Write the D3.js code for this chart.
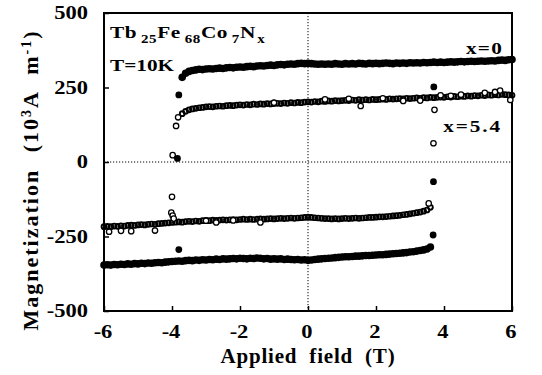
<!DOCTYPE html>
<html><head><meta charset="utf-8">
<script src="https://cdn.jsdelivr.net/npm/d3@7"></script>
<style>
html,body{margin:0;padding:0;background:#fff;}
svg{display:block;}
</style></head>
<body>
<svg id="chart" width="542" height="375" font-family="'Liberation Serif', 'Times New Roman', Times, serif" font-weight="bold"></svg>
<script>
// ---------- DATA ----------
const xTicks = [-6, -4, -2, 0, 2, 4, 6];
const yTicks = [-500, -250, 0, 250, 500];

const fieldGrid = [-6.0,-5.9,-5.8,-5.7,-5.6,-5.5,-5.4,-5.3,-5.2,-5.1,-5.0,-4.9,-4.8,-4.7,-4.6,-4.5,-4.4,-4.3,-4.2,-4.1,
-4.0,-3.9,-3.8,-3.7,-3.6,-3.5,-3.4,-3.3,-3.2,-3.1,-3.0,-2.9,-2.8,-2.7,-2.6,-2.5,-2.4,-2.3,-2.2,-2.1,
-2.0,-1.9,-1.8,-1.7,-1.6,-1.5,-1.4,-1.3,-1.2,-1.1,-1.0,-0.9,-0.8,-0.7,-0.6,-0.5,-0.4,-0.3,-0.2,-0.1,
0.0,0.1,0.2,0.3,0.4,0.5,0.6,0.7,0.8,0.9,1.0,1.1,1.2,1.3,1.4,1.5,1.6,1.7,1.8,1.9,
2.0,2.1,2.2,2.3,2.4,2.5,2.6,2.7,2.8,2.9,3.0,3.1,3.2,3.3,3.4,3.5,3.6,3.7,3.8,3.9,
4.0,4.1,4.2,4.3,4.4,4.5,4.6,4.7,4.8,4.9,5.0,5.1,5.2,5.3,5.4,5.5,5.6,5.7,5.8,5.9,6.0];

// x=0 : descending branch (upper)
const x0Upper = [null,null,null,null,null,null,null,null,null,null,null,null,null,null,null,null,null,null,null,null,
null,null,null,284,298,304,307,309,311,310,312,313,312,314,315,314,316,317,316,318,
319,318,320,321,320,322,323,322,324,325,324,326,327,326,328,329,328,330,331,330,
331,330,329,328,329,328,329,328,330,329,328,330,329,330,329,331,330,329,331,330,
331,330,331,332,331,330,332,331,332,331,333,332,333,332,334,333,334,335,334,335,
334,335,336,335,336,337,336,337,338,337,338,339,338,339,340,339,341,342,341,343,344];

// x=0 : ascending branch (lower)
const x0Lower = [-346,-345,-346,-344,-345,-343,-344,-342,-343,-341,-342,-340,-341,-339,-340,-338,-337,-338,-336,-335,
-334,-333,-332,-333,-331,-330,-331,-329,-330,-328,-329,-327,-328,-326,-327,-325,-326,-325,-324,-325,
-323,-324,-325,-323,-324,-322,-323,-325,-324,-326,-325,-326,-325,-327,-326,-327,-328,-327,-329,-328,
-330,-329,-327,-326,-325,-324,-323,-322,-321,-320,-319,-318,-318,-317,-316,-316,-315,-314,-314,-313,
-312,-311,-311,-310,-309,-308,-307,-306,-305,-304,-302,-301,-299,-297,-295,-292,-285,null,null,null,
null,null,null,null,null,null,null,null,null,null,null,null,null,null,null,null,null,null,null,null,null];

// x=5.4 : descending branch (upper)
const x54Upper = [null,null,null,null,null,null,null,null,null,null,null,null,null,null,null,null,null,null,null,null,
null,null,null,162,170,175,178,180,182,183,185,186,185,187,188,187,189,190,189,191,
192,191,193,192,194,193,195,194,196,195,196,197,196,198,197,199,198,200,199,201,
202,201,203,202,204,203,205,204,206,205,206,207,206,208,207,209,208,209,208,210,
209,210,211,210,212,211,212,213,212,214,213,214,215,214,216,215,217,216,217,218,
217,219,218,220,219,221,220,222,221,223,222,224,223,225,224,226,225,227,226,225,224];

// x=5.4 : ascending branch (lower)
const x54Lower = [-217,-216,-217,-215,-216,-214,-215,-213,-212,-213,-211,-210,-211,-209,-208,-209,-207,-206,-205,-204,
-203,-202,-201,-202,-200,-199,-200,-198,-199,-197,-196,-197,-195,-196,-195,-194,-195,-194,-193,-194,
-193,-192,-193,-192,-193,-192,-191,-192,-191,-190,-191,-190,-189,-190,-189,-188,-189,-188,-187,-186,
-185,-186,-187,-188,-189,-190,-190,-191,-190,-191,-190,-189,-190,-189,-188,-189,-188,-187,-186,-186,
-185,-184,-184,-183,-182,-181,-180,-179,-177,-176,-174,-172,-170,-168,-165,-161,-152,null,null,null,
null,null,null,null,null,null,null,null,null,null,null,null,null,null,null,null,null,null,null,null,null];

// isolated points during switching / scatter
const x0JumpH = [-3.80, -3.84, -3.80, 3.70, 3.69, 3.68];
const x0JumpM = [225, 12, -294, 252, -66, -245];
const x54ScatterH = [-3.98, -3.88, -3.82, 3.72, 3.69, 3.55, -4.00, -4.02, -3.98, -3.95,
  -5.85, -5.50, -5.20, -4.50, -3.00, -2.70, -2.20, -1.40,
  -1.00, 0.50, 1.20, 1.55, 2.20, 2.80, 3.30, 3.90, 4.20, 4.50, 5.20, 5.50, 5.65, 5.95];
const x54ScatterM = [23, 121, 150, 175, 63, -139, -117, -170, -180, -190,
  -234, -231, -232, -230, -197, -203, -196, -203,
  199, 210, 212, 188, 214, 205, 206, 224, 222, 226, 232, 235, 240, 208];

// ---------- CHART ----------
const svg = d3.select("#chart");
const x = d3.scaleLinear().domain([-6, 6]).range([104, 512]);
const y = d3.scaleLinear().domain([-500, 500]).range([311, 13]);

// dotted zero lines
svg.append("line").attr("x1", x(-6)).attr("x2", x(6)).attr("y1", y(0)).attr("y2", y(0))
  .attr("stroke", "#000").attr("stroke-width", 1).attr("stroke-dasharray", "1.2,1.8");
svg.append("line").attr("x1", x(0)).attr("x2", x(0)).attr("y1", y(500)).attr("y2", y(-500))
  .attr("stroke", "#000").attr("stroke-width", 1).attr("stroke-dasharray", "1.2,1.8");

// axes (ticks inward)
const gx = svg.append("g").attr("transform", `translate(0,${y(-500)})`)
  .call(d3.axisBottom(x).tickValues(xTicks).tickSizeInner(-5).tickSizeOuter(0).tickFormat(""));
const gy = svg.append("g").attr("transform", `translate(${x(-6)},0)`)
  .call(d3.axisLeft(y).tickValues(yTicks).tickSizeInner(-5).tickSizeOuter(0).tickFormat(""));
[gx, gy].forEach(g => {
  g.select(".domain").remove();
  g.selectAll(".tick line").attr("stroke", "#000").attr("stroke-width", 1.5);
});

// frame
svg.append("rect").attr("x", x(-6)).attr("y", y(500))
  .attr("width", x(6) - x(-6)).attr("height", y(-500) - y(500))
  .attr("fill", "none").attr("stroke", "#000").attr("stroke-width", 2);

// text helper (horizontally stretched like the scan)
const FONT = "'Liberation Serif', 'Times New Roman', Times, serif";
function hText(px, py, anchor, size, str, sx) {
  return svg.append("text")
    .attr("transform", `translate(${px},${py}) scale(${sx || 1.25},1)`)
    .attr("font-family", FONT).attr("font-weight", "bold").attr("fill", "#000")
    .attr("text-anchor", anchor).attr("font-size", size).text(str);
}
xTicks.forEach(v => hText(x(v) - 1, 338, "middle", 18, String(v)));
yTicks.forEach(v => hText(88, y(v) + 6, "end", 18, String(v)));

// data
function pts(vals) {
  return fieldGrid.map((h, i) => [h, vals[i]]).filter(d => d[1] !== null);
}
const gData = svg.append("g");
[x54Upper, x54Lower].forEach(arr => {
  gData.selectAll(null).data(pts(arr)).enter().append("circle")
    .attr("cx", d => x(d[0])).attr("cy", d => y(d[1])).attr("r", 2.4)
    .attr("fill", "none").attr("stroke", "#000").attr("stroke-width", 1.9);
});
[x0Upper, x0Lower].forEach(arr => {
  gData.selectAll(null).data(pts(arr)).enter().append("circle")
    .attr("cx", d => x(d[0])).attr("cy", d => y(d[1])).attr("r", 3.8).attr("fill", "#000");
});
gData.selectAll(null).data(x54ScatterH.map((h, i) => [h, x54ScatterM[i]])).enter().append("circle")
  .attr("cx", d => x(d[0])).attr("cy", d => y(d[1])).attr("r", 2.7)
  .attr("fill", "#fff").attr("stroke", "#000").attr("stroke-width", 1.3);
gData.selectAll(null).data(x0JumpH.map((h, i) => [h, x0JumpM[i]])).enter().append("circle")
  .attr("cx", d => x(d[0])).attr("cy", d => y(d[1])).attr("r", 3.4).attr("fill", "#000");

// annotations
const t1 = svg.append("text").attr("transform", "translate(110,38) scale(1.25,1)")
  .attr("font-family", FONT).attr("font-weight", "bold").attr("font-size", 17)
  .attr("letter-spacing", 0.5);
t1.append("tspan").text("Tb");
t1.append("tspan").attr("dx", 3).attr("dy", 5).attr("font-size", 12).text("25");
t1.append("tspan").attr("dy", -5).text("Fe");
t1.append("tspan").attr("dx", 3).attr("dy", 5).attr("font-size", 12).text("68");
t1.append("tspan").attr("dy", -5).text("Co");
t1.append("tspan").attr("dx", 3).attr("dy", 5).attr("font-size", 12).text("7");
t1.append("tspan").attr("dy", -5).text("N");
t1.append("tspan").attr("dx", 1).attr("dy", 5).attr("font-size", 12).text("x");

hText(110, 71, "start", 17, "T=10K");
hText(503, 54, "end", 17, "x=0").attr("letter-spacing", 1);
hText(502, 132, "end", 17, "x=5.4").attr("letter-spacing", 1.5);

// axis titles
svg.append("text").attr("x", 308).attr("y", 363).attr("text-anchor", "middle")
  .attr("font-family", FONT).attr("font-weight", "bold")
  .attr("font-size", 21).attr("letter-spacing", 0.8).attr("word-spacing", 6)
  .text("Applied field (T)");

const yt = svg.append("text").attr("transform", "translate(38,180) rotate(-90)")
  .attr("font-family", FONT).attr("font-weight", "bold")
  .attr("text-anchor", "middle").attr("font-size", 22)
  .attr("letter-spacing", 2).attr("word-spacing", 9);
yt.append("tspan").text("Magnetization (10");
yt.append("tspan").attr("dy", -7).attr("font-size", 14).text("3");
yt.append("tspan").attr("dy", 7).text("A m");
yt.append("tspan").attr("dy", -7).attr("font-size", 14).text("-1");
yt.append("tspan").attr("dy", 7).text(")");
</script>
</body></html>
